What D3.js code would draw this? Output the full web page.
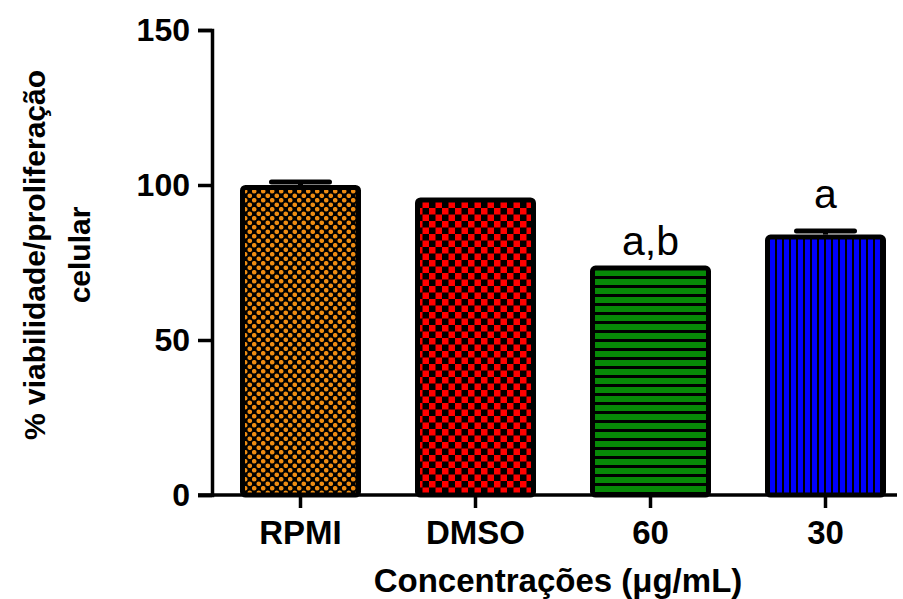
<!DOCTYPE html>
<html>
<head>
<meta charset="utf-8">
<script src="https://cdn.jsdelivr.net/npm/d3@7"></script>
<style>
  body { margin: 0; background: #fff; }
  text { font-family: "Liberation Sans", Arial, sans-serif; }
</style>
</head>
<body>
<div id="chart"></div>
<script>
// data
var categories = ["RPMI", "DMSO", "60", "30"];
var means = [100, 96, 74, 84];
var errors = [1.0, 0, 0, 1.2];
var letters = ["", "", "a,b", "a"];
var letterAt = [null, null, 77.5, 92.5];   // label baseline, in % units
var yTicks = [0, 50, 100, 150];
var patternIds = ["dots", "checks", "hstripes", "vstripes"];

var svgWidth = 903;
var svgHeight = 599;
var axisX = 212, axisTop = 30, axisBottom = 495, axisRight = 897;

var svg = d3.select("#chart")
    .append("svg")
    .attr("width", svgWidth)
    .attr("height", svgHeight);

// fill patterns
var defs = svg.append("defs");
var p1 = defs.append("pattern").attr("id", "dots").attr("patternUnits", "userSpaceOnUse")
    .attr("width", 9).attr("height", 9);
p1.append("rect").attr("width", 9).attr("height", 9).attr("fill", "#000");
p1.append("circle").attr("cx", 2.25).attr("cy", 2.25).attr("r", 2.3).attr("fill", "#ee8c12");
p1.append("circle").attr("cx", 6.75).attr("cy", 6.75).attr("r", 2.3).attr("fill", "#ee8c12");

var p2 = defs.append("pattern").attr("id", "checks").attr("patternUnits", "userSpaceOnUse")
    .attr("width", 13).attr("height", 13);
p2.append("rect").attr("width", 13).attr("height", 13).attr("fill", "#000");
p2.append("rect").attr("width", 6.5).attr("height", 6.5).attr("fill", "#ff0000");
p2.append("rect").attr("x", 6.5).attr("y", 6.5).attr("width", 6.5).attr("height", 6.5).attr("fill", "#ff0000");

var p3 = defs.append("pattern").attr("id", "hstripes").attr("patternUnits", "userSpaceOnUse")
    .attr("width", 9).attr("height", 9);
p3.append("rect").attr("width", 9).attr("height", 9).attr("fill", "#000");
p3.append("rect").attr("y", 0).attr("width", 9).attr("height", 6).attr("fill", "#078a07");

var p4 = defs.append("pattern").attr("id", "vstripes").attr("patternUnits", "userSpaceOnUse")
    .attr("width", 7).attr("height", 7);
p4.append("rect").attr("width", 7).attr("height", 7).attr("fill", "#000");
p4.append("rect").attr("width", 5).attr("height", 7).attr("fill", "#0000ff");

// scales
var x = d3.scaleBand()
    .domain(categories)
    .range([axisX, axisX + 702])
    .paddingInner(0.3086)
    .paddingOuter(0.16);
var y = d3.scaleLinear().domain([0, 150]).range([axisBottom, axisTop]);

var sw = 5;
var bars = svg.append("g");
bars.selectAll("rect")
    .data(categories)
    .enter()
    .append("rect")
    .attr("x", function(d) { return x(d) + sw / 2; })
    .attr("y", function(d, i) { return y(means[i]) + sw / 2; })
    .attr("width", x.bandwidth() - sw)
    .attr("height", function(d, i) { return y(0) - y(means[i]) - sw / 2; })
    .attr("rx", 3)
    .attr("fill", function(d, i) { return "url(#" + patternIds[i] + ")"; })
    .attr("stroke", "#000")
    .attr("stroke-width", sw);

// error bars (upper only, hidden when smaller than the border)
var err = svg.append("g").attr("stroke", "#000").attr("stroke-width", 5);
categories.forEach(function(c, i) {
    if (errors[i] <= 0) return;
    var cx = x(c) + x.bandwidth() / 2;
    err.append("line")
        .attr("x1", cx).attr("x2", cx)
        .attr("y1", y(means[i])).attr("y2", y(means[i] + errors[i]));
    err.append("line")
        .attr("x1", cx - 29).attr("x2", cx + 29)
        .attr("y1", y(means[i] + errors[i])).attr("y2", y(means[i] + errors[i]))
        .attr("stroke-linecap", "round");
});

// significance letters
svg.append("g").selectAll("text")
    .data(categories)
    .enter()
    .append("text")
    .filter(function(d, i) { return letters[i] !== ""; })
    .attr("x", function(d) { return x(d) + x.bandwidth() / 2; })
    .attr("y", function(d) { return y(letterAt[categories.indexOf(d)]); })
    .attr("text-anchor", "middle")
    .style("font-size", "41px")
    .text(function(d) { return letters[categories.indexOf(d)]; });

// y axis
var yAxis = svg.append("g")
    .attr("transform", "translate(" + axisX + ",0)")
    .call(d3.axisLeft(y).tickValues(yTicks).tickSize(14).tickSizeOuter(14).tickPadding(8));
yAxis.select(".domain").attr("stroke-width", 3.5);
yAxis.selectAll(".tick line").attr("stroke-width", 3.5);
yAxis.selectAll(".tick text")
    .style("font-size", "32px").style("font-weight", "bold")
    .attr("fill", "#000").attr("font-family", null);

// x axis
var xAxis = svg.append("g")
    .attr("transform", "translate(0," + axisBottom + ")")
    .call(d3.axisBottom(x).tickSize(13).tickSizeOuter(0).tickPadding(13));
xAxis.select(".domain").remove();
xAxis.selectAll(".tick line").attr("stroke-width", 3.5);
xAxis.selectAll(".tick text")
    .style("font-size", "33px").style("font-weight", "bold")
    .attr("fill", "#000").attr("font-family", null);
xAxis.append("line")
    .attr("x1", axisX - 14).attr("x2", axisRight)
    .attr("y1", 0).attr("y2", 0)
    .attr("stroke", "#000").attr("stroke-width", 3.5);

// axis titles
svg.append("text")
    .attr("x", 558)
    .attr("y", 592)
    .attr("text-anchor", "middle")
    .style("font-size", "33px").style("font-weight", "bold")
    .text("Concentrações (μg/mL)");

var yTitle = svg.append("text")
    .attr("transform", "translate(45,255) rotate(-90)")
    .attr("text-anchor", "middle")
    .style("font-size", "30px").style("font-weight", "bold");
yTitle.append("tspan").attr("x", 0).attr("y", 0).text("% viabilidade/proliferação");
yTitle.append("tspan").attr("x", 0).attr("y", 45).text("celular");
</script>
</body>
</html>
